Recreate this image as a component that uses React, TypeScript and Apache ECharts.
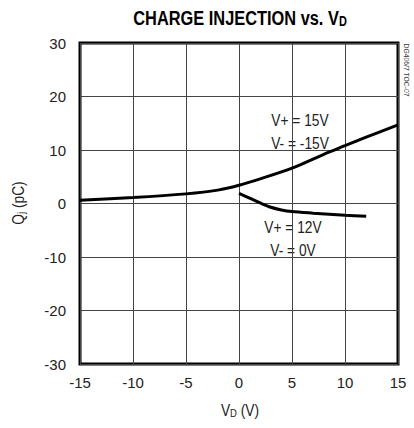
import React, { useEffect, useRef } from "react";
import * as echarts from "echarts";

const xTicks = [-15, -10, -5, 0, 5, 10, 15];
const yTicks = [-30, -20, -10, 0, 10, 20, 30];

const vd15 = [-15, -10, -5, -2, 0, 2, 5, 8, 10, 12, 15];
const qj15 = [0.6, 1.1, 1.8, 2.5, 3.4, 4.6, 6.6, 9.2, 10.8, 12.4, 14.7];

const vd12 = [0, 1, 2, 3, 4, 5, 7, 10, 12];
const qj12 = [1.9, 1.0, 0.1, -0.7, -1.2, -1.5, -1.8, -2.2, -2.4];

const FONT = "'Liberation Sans', Arial, sans-serif";
const TXT = "#222";

export default function App() {
  const ref = useRef<HTMLDivElement>(null);
  useEffect(() => {
    if (!ref.current) return;
    const chart = echarts.init(ref.current, undefined, { renderer: "svg" });
    const zip = (xs: number[], ys: number[]) => xs.map((x, i) => [x, ys[i]]);
    const note = (x: number, y: number, text: string) => ({
      type: "text",
      x,
      y,
      scaleX: 0.86,
      style: { text, align: "center", verticalAlign: "middle", fontFamily: FONT, fontSize: 16, fill: TXT },
    });
    chart.setOption({
      animation: false,
      backgroundColor: "#fff",
      grid: {
        left: 80,
        right: 16,
        top: 43,
        bottom: 64,
        show: true,
        borderColor: "#000",
        borderWidth: 3,
        backgroundColor: "transparent",
      },
      xAxis: {
        type: "value",
        min: xTicks[0],
        max: xTicks[xTicks.length - 1],
        interval: 5,
        axisLine: { show: false },
        axisTick: { show: false },
        axisLabel: { color: TXT, fontFamily: FONT, fontSize: 15, margin: 11 },
        splitLine: { show: true, lineStyle: { color: "#444", width: 1 } },
      },
      yAxis: {
        type: "value",
        min: yTicks[0],
        max: yTicks[yTicks.length - 1],
        interval: 10,
        axisLine: { show: false },
        axisTick: { show: false },
        axisLabel: { color: TXT, fontFamily: FONT, fontSize: 15, margin: 14 },
        splitLine: { show: true, lineStyle: { color: "#444", width: 1 } },
      },
      series: [
        {
          type: "line",
          data: zip(vd15, qj15),
          smooth: 0.3,
          symbol: "none",
          lineStyle: { color: "#000", width: 3 },
        },
        {
          type: "line",
          data: zip(vd12, qj12),
          smooth: 0.3,
          symbol: "none",
          lineStyle: { color: "#000", width: 3 },
        },
      ],
      graphic: [
        {
          type: "text",
          x: 240,
          y: 18,
          scaleX: 0.78,
          style: {
            text: "{t|CHARGE INJECTION vs. V}{s|D}",
            align: "center",
            verticalAlign: "middle",
            rich: {
              t: { fontFamily: FONT, fontWeight: "bold", fontSize: 21, fill: "#000" },
              s: { fontFamily: FONT, fontWeight: "bold", fontSize: 14, fill: "#000", padding: [8, 0, 0, 0] },
            },
          },
        },
        {
          type: "text",
          x: 240,
          y: 410,
          scaleX: 0.86,
          style: {
            text: "{t|V}{s|D}{t| (V)}",
            align: "center",
            verticalAlign: "middle",
            rich: {
              t: { fontFamily: FONT, fontSize: 16, fill: TXT },
              s: { fontFamily: FONT, fontSize: 11, fill: TXT, padding: [7, 0, 0, 0] },
            },
          },
        },
        {
          type: "text",
          x: 18,
          y: 203,
          rotation: Math.PI / 2,
          scaleX: 0.86,
          style: {
            text: "{t|Q}{s|j}{t| (pC)}",
            align: "center",
            verticalAlign: "middle",
            rich: {
              t: { fontFamily: FONT, fontSize: 16, fill: TXT },
              s: { fontFamily: FONT, fontSize: 11, fill: TXT, padding: [7, 0, 0, 0] },
            },
          },
        },
        note(300, 120, "V+ = 15V"),
        note(300, 143, "V- = -15V"),
        note(293, 227, "V+ = 12V"),
        note(293, 250, "V- = 0V"),
        {
          type: "text",
          x: 407,
          y: 70,
          rotation: -Math.PI / 2,
          scaleX: 0.85,
          style: { text: "DG406/7 TOC-07", align: "center", verticalAlign: "middle", fontFamily: FONT, fontSize: 8, fill: "#333" },
        },
      ],
    });
    return () => chart.dispose();
  }, []);
  return (
    <div
      ref={ref}
      style={{ position: "fixed", left: 0, top: 0, width: 414, height: 428 }}
    />
  );
}
